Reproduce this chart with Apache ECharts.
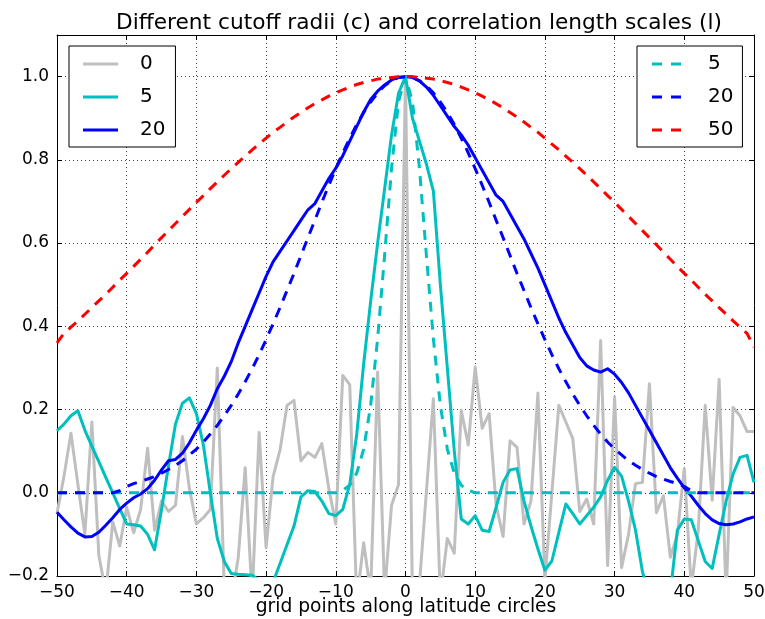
<!DOCTYPE html>
<html><head><meta charset="utf-8">
<script src="https://cdn.jsdelivr.net/npm/echarts@6/dist/echarts.min.js"></script>
<style>html,body{margin:0;padding:0;background:#fff}#c{width:765px;height:619px}</style>
</head><body><div id="c"></div>
<script>
// grid points -50..50
const gridPoints = Array.from({length: 101}, (_, i) => i - 50);

// cutoff radius c = 0 (gray, solid)
const c0 = [-0.05,0.04,0.143,0.02,-0.1,0.17,-0.15,-0.24,-0.07,-0.128,
  -0.035,-0.096,-0.04,0.107,-0.09,-0.02,-0.045,-0.03,0.135,0.01,
  -0.075,-0.06,-0.04,0.3,-0.23,-0.26,-0.156,0.06,-0.25,0.145,
  -0.132,0.038,0.103,0.21,0.222,0.077,0.097,0.085,0.118,0.01,
  -0.075,0.282,0.26,-0.26,-0.12,-0.24,0.29,-0.24,-0.03,0.02,
  1.0,
  -0.26,-0.22,0.003,0.226,-0.25,-0.11,-0.145,0.198,0.115,0.302,
  0.155,0.19,-0.03,-0.105,0.125,0.109,-0.075,-0.02,0.24,-0.21,
  0.0,0.21,0.17,0.13,-0.045,-0.015,-0.075,0.366,-0.175,0.23,
  -0.18,-0.1,0.022,0.025,0.262,-0.048,-0.007,-0.155,-0.1,0.058,
  -0.23,-0.09,0.21,-0.018,0.272,-0.25,0.205,0.185,0.147,0.147];

// cutoff radius c = 5 (cyan, solid)
const c5 = [0.149,0.165,0.185,0.197,0.15,0.112,0.075,0.037,0.0,-0.038,
  -0.075,-0.077,-0.08,-0.1,-0.137,-0.04,0.065,0.165,0.215,0.228,
  0.19,0.115,0.0,-0.11,-0.165,-0.194,-0.196,-0.197,-0.198,-0.21,
  -0.225,-0.215,-0.17,-0.125,-0.08,-0.01,0.005,0.003,-0.02,-0.05,
  -0.055,-0.04,0.02,0.14,0.31,0.46,0.6,0.73,0.86,0.96,
  1.0,
  0.9,0.845,0.79,0.725,0.5,0.3,0.1,-0.063,-0.075,-0.055,
  -0.09,-0.093,-0.035,0.025,0.055,0.058,-0.02,-0.08,-0.135,-0.186,
  -0.164,-0.095,-0.027,-0.05,-0.075,-0.055,-0.035,-0.01,0.03,0.061,
  0.04,-0.02,-0.09,-0.19,-0.25,-0.28,-0.26,-0.24,-0.09,-0.063,
  -0.065,-0.115,-0.165,-0.182,-0.1,-0.02,0.045,0.085,0.09,0.025];

// cutoff radius c = 20 (blue, solid)
const c20 = [-0.047,-0.065,-0.082,-0.097,-0.106,-0.105,-0.095,-0.078,-0.06,-0.04,
  -0.025,-0.012,-0.003,0.01,0.03,0.055,0.077,0.08,0.095,0.12,
  0.15,0.178,0.21,0.25,0.28,0.315,0.36,0.4,0.44,0.48,
  0.52,0.555,0.58,0.605,0.63,0.655,0.68,0.695,0.725,0.755,
  0.78,0.81,0.845,0.88,0.915,0.945,0.965,0.98,0.992,0.998,
  1.0,
  0.998,0.99,0.975,0.955,0.93,0.905,0.88,0.86,0.835,0.805,
  0.775,0.745,0.715,0.7,0.67,0.64,0.61,0.575,0.54,0.5,
  0.46,0.42,0.385,0.355,0.325,0.305,0.295,0.29,0.298,0.285,
  0.265,0.24,0.21,0.18,0.15,0.12,0.09,0.06,0.035,0.012,
  -0.008,-0.03,-0.05,-0.065,-0.074,-0.077,-0.075,-0.07,-0.063,-0.058];

// correlation length l = 5 (cyan, dashed)
const l5 = [0,0,0,0,0,0,0,0,0,0,
  0,0,0,0,0,0,0,0,0,0,
  0,0,0,0,0,0,0,0,0,0,
  0,0,0,0,0,0,0,0,0,0,
  0,0.006,0.018,0.047,0.105,0.21,0.37,0.57,0.78,0.94,
  1.0,
  0.94,0.78,0.57,0.37,0.21,0.105,0.047,0.018,0.006,0,
  0,0,0,0,0,0,0,0,0,0,
  0,0,0,0,0,0,0,0,0,0,
  0,0,0,0,0,0,0,0,0,0,
  0,0,0,0,0,0,0,0,0,0];

// correlation length l = 20 (blue, dashed)
const l20 = [0,0,0,0,0,0,0,0,0,0.005,
  0.015,0.022,0.027,0.033,0.039,0.047,0.056,0.066,0.077,0.091,
  0.105,0.122,0.141,0.162,0.185,0.21,0.237,0.267,0.298,0.332,
  0.368,0.406,0.445,0.486,0.527,0.57,0.613,0.655,0.698,0.739,
  0.779,0.817,0.852,0.885,0.914,0.939,0.961,0.978,0.99,0.998,
  1.0,
  0.998,0.99,0.978,0.961,0.939,0.914,0.885,0.852,0.817,0.779,
  0.739,0.698,0.655,0.613,0.57,0.527,0.486,0.445,0.406,0.368,
  0.332,0.298,0.267,0.237,0.21,0.185,0.162,0.141,0.122,0.105,
  0.091,0.077,0.066,0.056,0.047,0.039,0.033,0.027,0.022,0.015,
  0.005,0,0,0,0,0,0,0,0,0];

// correlation length l = 50 (red, dashed)
const l50 = [0.36,0.383,0.398,0.413,0.429,0.445,0.461,0.477,0.494,0.511,
  0.527,0.544,0.561,0.578,0.596,0.613,0.63,0.647,0.664,0.681,
  0.698,0.714,0.731,0.747,0.763,0.779,0.794,0.809,0.824,0.838,
  0.852,0.866,0.878,0.891,0.903,0.914,0.925,0.935,0.944,0.953,
  0.961,0.968,0.975,0.981,0.986,0.99,0.994,0.996,0.998,1.0,
  1.0,
  1.0,0.998,0.996,0.994,0.99,0.986,0.981,0.975,0.968,0.961,
  0.953,0.944,0.935,0.925,0.914,0.903,0.891,0.878,0.866,0.852,
  0.838,0.824,0.809,0.794,0.779,0.763,0.747,0.731,0.714,0.698,
  0.681,0.664,0.647,0.63,0.613,0.596,0.578,0.561,0.544,0.527,
  0.511,0.494,0.477,0.461,0.445,0.429,0.413,0.398,0.383,0.35];

const solidNames = ['c0', 'c5', 'c20'];
const dashedNames = ['l5', 'l20', 'l50'];
const xAxisTitle = 'grid points along latitude circles';

const FONT = 'DejaVu Sans';
const pair = arr => gridPoints.map((x, i) => [x, arr[i]]);
const minus = s => s.replace('-', '\u2212');

const chart = echarts.init(document.getElementById('c'), null, {renderer: 'canvas'});

const frameLine = {show: true, onZero: false, lineStyle: {color: '#000', width: 1}};
const tickIn = {show: true, inside: true, length: 5, lineStyle: {color: '#000', width: 1}};
const gridDots = {show: true, lineStyle: {color: '#000', width: 1, type: [1, 3], opacity: 0.75}};

function mkSeries(name, data, color, dashed, z) {
  return {
    name, type: 'line', data: pair(data), xAxisIndex: 0, yAxisIndex: 0,
    symbol: 'none', showSymbol: false, clip: true, z,
    lineStyle: {color, width: 3, type: dashed ? [10, 8] : 'solid', cap: 'butt', join: 'round'},
    itemStyle: {color},
    emphasis: {disabled: true}
  };
}

const SOLID_ICON = 'rect';
const DASH_ICON = 'path://M0,0h10v3h-10z M19,0h10v3h-10z';

const legendBase = {
  orient: 'vertical', selectedMode: false,
  borderColor: '#000', borderWidth: 1, borderRadius: 0,
  backgroundColor: '#fff',
  itemHeight: 3, itemGap: 13, symbolKeepAspect: false,
  textStyle: {fontFamily: FONT, fontSize: 20, lineHeight: 20, color: '#000'},
  formatter: name => name.slice(1)
};

chart.setOption({
  animation: false,
  backgroundColor: '#fff',
  title: {
    text: 'Different cutoff radii (c) and correlation length scales (l)',
    left: 414, top: 7, textAlign: 'center',
    textStyle: {fontFamily: FONT, fontSize: 21.7, fontWeight: 'normal', color: '#000'}
  },
  grid: {left: 57, right: 11, top: 35, bottom: 43, containLabel: false, outerBoundsMode: 'none'},
  graphic: [{
    type: 'text', x: 406, y: 607, silent: true,
    style: {text: xAxisTitle, fontFamily: FONT, fontSize: 18.7, fill: '#000',
            textAlign: 'center', textVerticalAlign: 'middle', verticalAlign: 'middle', align: 'center'}
  }],
  legend: [
    Object.assign({}, legendBase, {
      data: solidNames.map(n => ({name: n, icon: SOLID_ICON})),
      itemWidth: 35, left: 69, top: 46, padding: [8, 10, 7, 14],
      textStyle: Object.assign({}, legendBase.textStyle, {padding: [0, 0, 0, 17]})
    }),
    Object.assign({}, legendBase, {
      data: dashedNames.map(n => ({name: n, icon: DASH_ICON})),
      itemWidth: 29, left: 637, top: 46, padding: [8, 9, 7, 15],
      textStyle: Object.assign({}, legendBase.textStyle, {padding: [0, 0, 0, 22]})
    })
  ],
  xAxis: [
    {type: 'value', min: -50, max: 50, interval: 10, position: 'bottom',
     axisLine: frameLine, axisTick: tickIn, splitLine: gridDots,
     axisLabel: {fontFamily: FONT, fontSize: 17, color: '#000', margin: 8, formatter: v => minus(String(v))}},
    {type: 'value', min: -50, max: 50, interval: 10, position: 'top',
     axisLine: frameLine, axisTick: tickIn, splitLine: {show: false}, axisLabel: {show: false}}
  ],
  yAxis: [
    {type: 'value', min: -0.2, max: 1.1, interval: 0.2, position: 'left',
     axisLine: frameLine, axisTick: tickIn, splitLine: gridDots,
     axisLabel: {fontFamily: FONT, fontSize: 17, color: '#000', margin: 8,
       formatter: v => (Math.abs(v - 1.1) < 1e-6 ? '' : (v < -1e-9 ? '\u2212' : '') + Math.abs(v).toFixed(1))}},
    {type: 'value', min: -0.2, max: 1.1, interval: 0.2, position: 'right',
     axisLine: frameLine, axisTick: tickIn, splitLine: {show: false}, axisLabel: {show: false}}
  ],
  series: [
    mkSeries('c0', c0, '#bfbfbf', false, 2),
    mkSeries('c5', c5, '#00bfbf', false, 3),
    mkSeries('c20', c20, '#0000ff', false, 4),
    mkSeries('l5', l5, '#00bfbf', true, 5),
    mkSeries('l20', l20, '#0000ff', true, 6),
    mkSeries('l50', l50, '#ff0000', true, 7)
  ]
});
</script></body></html>
